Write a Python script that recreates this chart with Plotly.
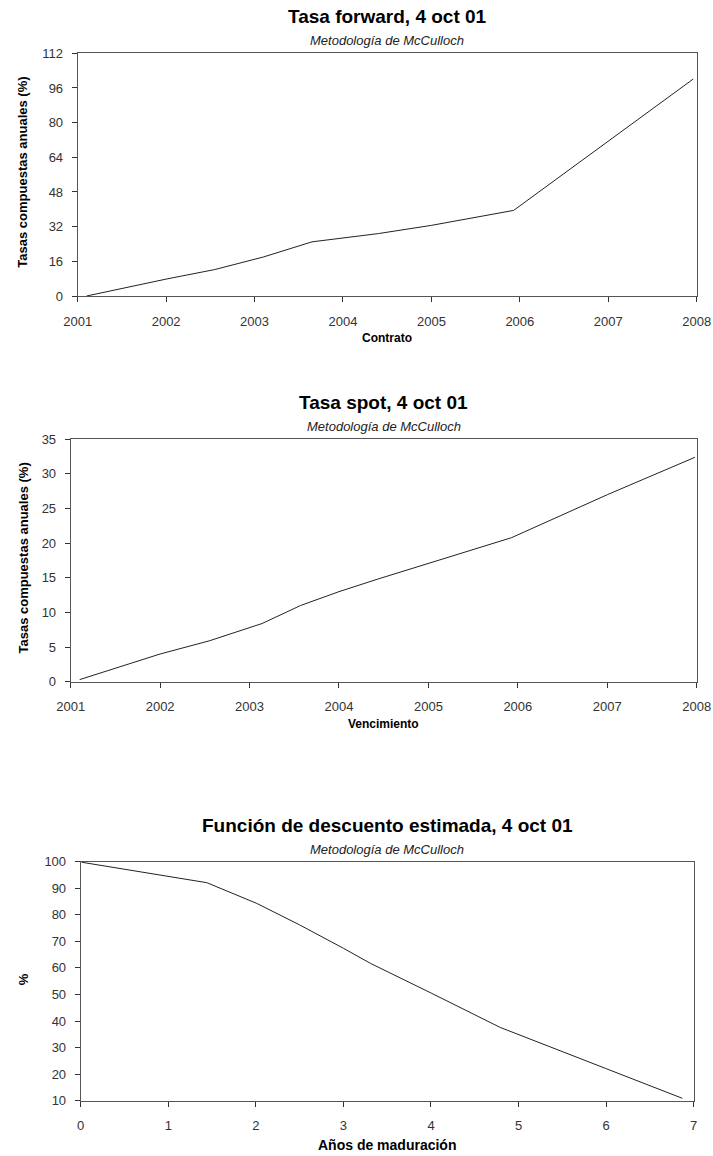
import plotly.graph_objects as go

W, H = 713, 1156

# ---- data ----
fwd_x = [2001.10, 2002.0, 2002.55, 2003.1, 2003.65, 2004.4, 2005.0, 2005.93, 2007.96]
fwd_y = [0.0, 7.8, 12.2, 18.0, 25.0, 28.8, 32.6, 39.5, 100.1]

spot_x = [2001.10, 2002.0, 2002.55, 2003.14, 2003.57, 2004.0, 2004.43, 2005.0, 2005.93, 2007.0, 2007.98]
spot_y = [0.3, 4.0, 5.9, 8.4, 11.0, 13.0, 14.8, 17.1, 20.8, 27.0, 32.4]

disc_x = [0.01, 1.44, 2.01, 2.5, 3.0, 3.31, 4.01, 4.79, 5.99, 6.87]
disc_y = [99.8, 92.1, 84.3, 76.2, 67.4, 61.7, 50.4, 37.6, 22.2, 10.9]

titles = ["Tasa forward, 4 oct 01", "Tasa spot, 4 oct 01", "Función de descuento estimada, 4 oct 01"]
subtitle = "Metodología de McCulloch"
xtitles = ["Contrato", "Vencimiento", "Años de maduración"]
ytitles = ["Tasas compuestas anuales (%)", "Tasas compuestas anuales (%)", "%"]

# ---- layout helpers (pixel boxes in page coordinates) ----
boxes = [  # left, right, top, bottom in px
    (77.7, 696.7, 53.3, 296.0),
    (70.7, 696.7, 439.3, 681.7),
    (80.7, 693.7, 861.7, 1100.7),
]

def px_x(v):
    return v / W

def px_y(v):
    return 1 - v / H

FONT = "Liberation Sans, Arial, sans-serif"
LINE = "#222222"
AX = "#555555"

fig = go.Figure()
series = [(fwd_x, fwd_y), (spot_x, spot_y), (disc_x, disc_y)]
for i, (xs, ys) in enumerate(series):
    sfx = "" if i == 0 else str(i + 1)
    fig.add_trace(go.Scatter(x=xs, y=ys, mode="lines",
                             line=dict(color=LINE, width=1),
                             xaxis="x" + sfx, yaxis="y" + sfx,
                             showlegend=False, hoverinfo="skip"))

yranges = [(0, 112, 16), (0, 35, 5), (10, 100, 10)]
xranges = [(2001, 2008, 1), (2001, 2008, 1), (0, 7, 1)]

layout = dict(width=W, height=H, margin=dict(l=0, r=0, t=0, b=0, autoexpand=False),
              paper_bgcolor="white", plot_bgcolor="white",
              font=dict(family=FONT, color="#222"), annotations=[])

for i, (l, r, t, b) in enumerate(boxes):
    sfx = "" if i == 0 else str(i + 1)
    x0, x1, xd = xranges[i]
    y0, y1, yd = yranges[i]
    common = dict(showline=True, linecolor=AX, linewidth=1, mirror=True,
                  showgrid=False, zeroline=False, ticks="outside",
                  ticklen=5, tickcolor="#333", tickwidth=1, automargin=False,
                  ticklabeloverflow="allow",
                  tickfont=dict(family=FONT, size=13, color="#333"))
    layout["xaxis" + sfx] = dict(common, domain=[px_x(l), px_x(r)],
                                 range=[x0, x1], tick0=x0, dtick=xd,
                                 anchor="y" + sfx, ticklabelstandoff=8)
    layout["yaxis" + sfx] = dict(common, domain=[px_y(b), px_y(t)],
                                 range=[y0, y1], tick0=y0, dtick=yd,
                                 anchor="x" + sfx, ticklabelstandoff=6)
    cx = (l + r) / 2
    layout["annotations"] += [
        dict(text="<b>" + titles[i] + "</b>", x=px_x(cx), y=px_y(t - 36.5),
             xref="paper", yref="paper", showarrow=False, xanchor="center",
             yanchor="middle", font=dict(family=FONT, size=19, color="#000")),
        dict(text="<i>" + subtitle + "</i>", x=px_x(cx), y=px_y(t - 12.5),
             xref="paper", yref="paper", showarrow=False, xanchor="center",
             yanchor="middle", font=dict(family=FONT, size=13, color="#222")),
        dict(text="<b>" + xtitles[i] + "</b>", x=px_x(cx), y=px_y(b + (42 if i < 2 else 44.5)),
             xref="paper", yref="paper", showarrow=False, xanchor="center",
             yanchor="middle", font=dict(family=FONT, size=12 if i < 2 else 14, color="#000")),
        dict(text="<b>" + ytitles[i] + "</b>", x=px_x(23), y=px_y((t + b) / 2 - 2),
             xref="paper", yref="paper", showarrow=False, xanchor="center",
             yanchor="middle", textangle=-90,
             font=dict(family=FONT, size=13, color="#000")),
    ]

fig.update_layout(**layout)
fig.write_html("out.html", config={"displayModeBar": False},
               post_script="document.body.style.margin='0px';document.body.style.overflow='hidden';")
